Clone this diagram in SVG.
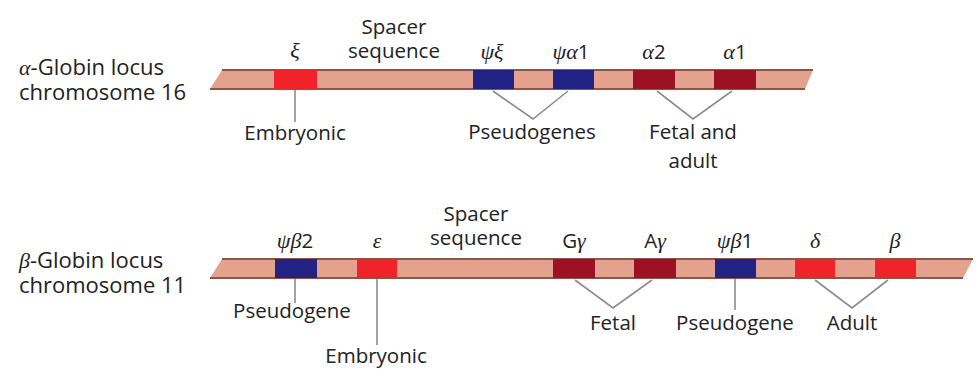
<svg xmlns="http://www.w3.org/2000/svg" width="979" height="371" viewBox="0 0 979 371">
<style>
text{font-family:"Open Sans","Noto Sans","Liberation Sans",sans-serif;font-size:20.5px;fill:#222}
.big{font-size:22px}
.g{font-style:italic;font-family:"Liberation Serif","DejaVu Serif",serif;font-size:22px}
.n{font-style:normal;font-family:"Open Sans","Noto Sans",sans-serif;font-size:20.5px}
.m{text-anchor:middle}
.bar{fill:#e4a18e}
.edge{stroke:#8a5646;stroke-width:2;fill:none}
.red{fill:#f0222a}
.dk{fill:#9c1222}
.bl{fill:#222184}
.c{stroke:#8c8c8c;stroke-width:1.6;fill:none}
</style>
<rect width="979" height="371" fill="#fff"/>
<g id="alpha-label"><text class="big" x="19" y="75"><tspan class="g">α</tspan>-Globin locus</text><text class="big" x="19" y="100">chromosome 16</text></g>
<g id="alpha-chromosome">
<polygon class="bar" points="222,70 813,70 805,89 210,89"/>
<line class="edge" x1="222" y1="70" x2="813" y2="70"/>
<line class="edge" x1="210" y1="89" x2="805" y2="89"/>
</g>
<g id="alpha-spacer"><text class="m" x="394" y="34">Spacer</text><text class="m" x="394" y="58">sequence</text></g>
<g id="gene-xi"><rect class="red" x="274" y="70" width="43" height="19"/><text class="g m" x="295" y="58">ξ</text></g>
<g id="gene-psixi"><rect class="bl" x="473" y="70" width="41" height="19"/><text class="g m" x="492" y="59">ψξ</text></g>
<g id="gene-psialpha1"><rect class="bl" x="553" y="70" width="41" height="19"/><text class="g m" x="571" y="59">ψα<tspan class="n">1</tspan></text></g>
<g id="gene-alpha2"><rect class="dk" x="633" y="70" width="42" height="19"/><text class="g m" x="654" y="59">α<tspan class="n">2</tspan></text></g>
<g id="gene-alpha1"><rect class="dk" x="714" y="70" width="42" height="19"/><text class="g m" x="735" y="59">α<tspan class="n">1</tspan></text></g>
<g id="alpha-embryonic"><text class="m" x="295" y="140">Embryonic</text></g>
<g id="alpha-pseudogenes"><text class="m" x="532" y="139">Pseudogenes</text></g>
<g id="alpha-fetal-adult"><text class="m" x="693" y="139">Fetal and</text><text class="m" x="693" y="168">adult</text></g>

<g id="beta-label"><text class="big" x="19" y="268"><tspan class="g">β</tspan>-Globin locus</text><text class="big" x="19" y="293">chromosome 11</text></g>
<g id="beta-chromosome">
<polygon class="bar" points="222,259 973,259 963,278 210,278"/>
<line class="edge" x1="222" y1="259" x2="973" y2="259"/>
<line class="edge" x1="210" y1="278" x2="963" y2="278"/>
</g>
<g id="beta-spacer"><text class="m" x="476" y="221">Spacer</text><text class="m" x="476" y="245">sequence</text></g>
<g id="gene-psibeta2"><rect class="bl" x="275" y="259" width="42" height="19"/><text class="g m" x="295" y="248">ψβ<tspan class="n">2</tspan></text></g>
<g id="gene-epsilon"><rect class="red" x="357" y="259" width="40" height="19"/><text class="g m" x="377" y="248">ε</text></g>
<g id="gene-Ggamma"><rect class="dk" x="553" y="259" width="42" height="19"/><text class="m" x="574" y="248">G<tspan class="g">γ</tspan></text></g>
<g id="gene-Agamma"><rect class="dk" x="634" y="259" width="42" height="19"/><text class="m" x="655" y="248">A<tspan class="g">γ</tspan></text></g>
<g id="gene-psibeta1"><rect class="bl" x="715" y="259" width="41" height="19"/><text class="g m" x="735" y="248">ψβ<tspan class="n">1</tspan></text></g>
<g id="gene-delta"><rect class="red" x="795" y="259" width="40" height="19"/><text class="g m" x="815" y="248">δ</text></g>
<g id="gene-beta"><rect class="red" x="875" y="259" width="41" height="19"/><text class="g m" x="895" y="248">β</text></g>
<g id="beta-pseudogene1"><text class="m" x="292" y="318">Pseudogene</text></g>
<g id="beta-embryonic"><text class="m" x="376" y="363">Embryonic</text></g>
<g id="beta-fetal"><text class="m" x="613" y="330">Fetal</text></g>
<g id="beta-pseudogene2"><text class="m" x="735" y="330">Pseudogene</text></g>
<g id="beta-adult"><text class="m" x="852" y="330">Adult</text></g>

<g id="connectors">
<line class="c" x1="295" y1="90" x2="295" y2="122"/>
<polyline class="c" points="493,91 533,119 568,91"/>
<polyline class="c" points="657,91 693,119 732,91"/>
<line class="c" x1="295" y1="279" x2="295" y2="303"/>
<line class="c" x1="377" y1="279" x2="377" y2="345"/>
<polyline class="c" points="575,280 613,308 652,280"/>
<line class="c" x1="735" y1="279" x2="735" y2="310"/>
<polyline class="c" points="815,280 852,308 888,280"/>
</g>
</svg>
